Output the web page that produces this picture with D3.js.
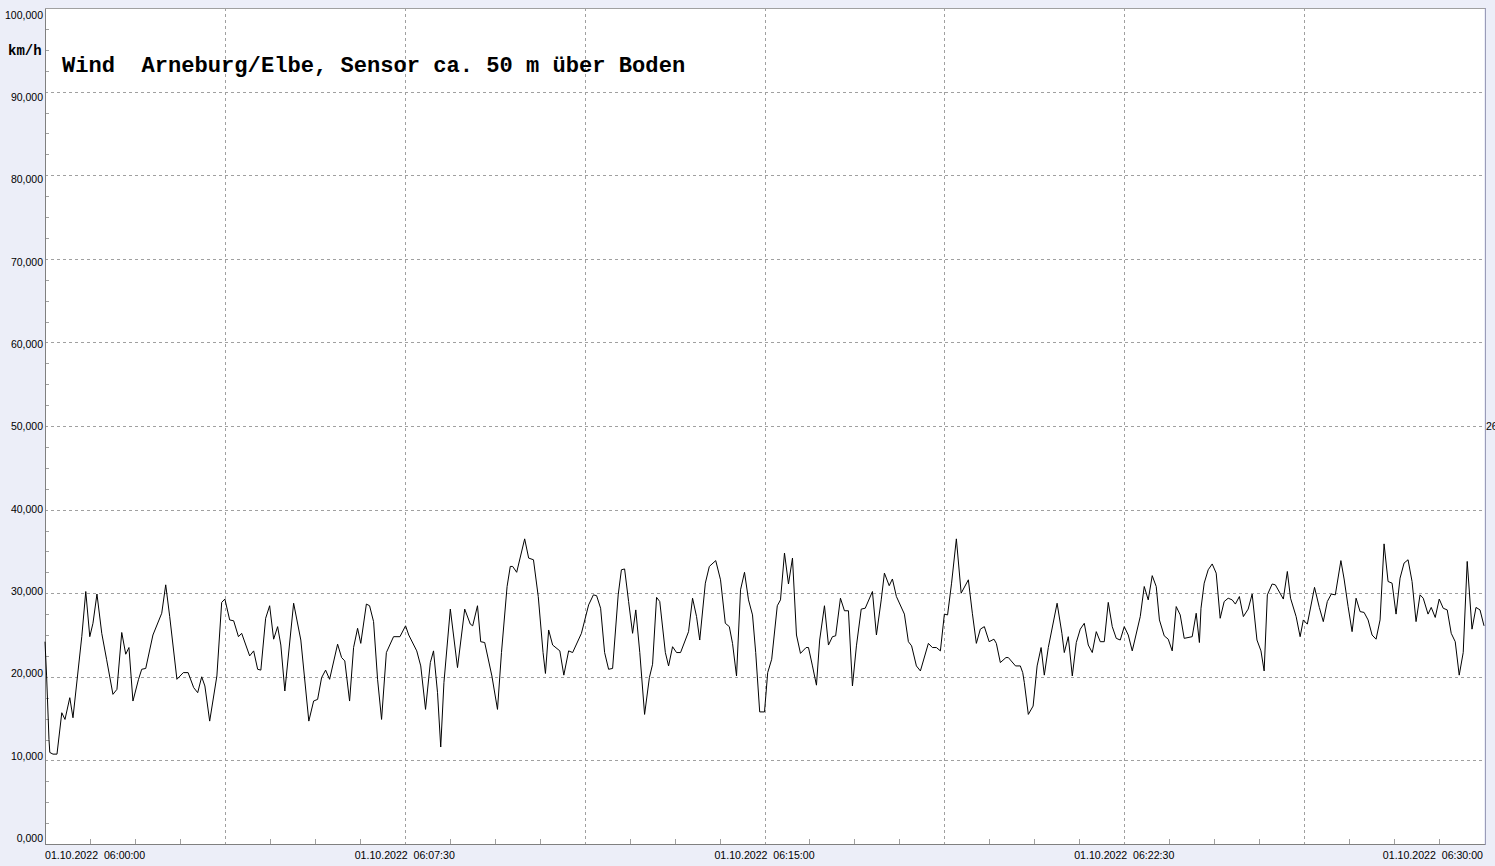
<!DOCTYPE html>
<html><head><meta charset="utf-8">
<script src="https://cdn.jsdelivr.net/npm/d3@7"></script>
<style>
html,body{margin:0;padding:0;background:#eceef8;}
svg{display:block;}
</style></head>
<body>
<svg id="chart" width="1495" height="866"></svg>
<script>
// seconds after 01.10.2022 06:00:00
const times = [0,2,5,6,10,15,21,25,31,35,46,51,56,60,65,71,77,85,90,96,101,105,110,117,121,126,135,146,151,156,165,173,179,186,191,196,200,206,215,221,225,231,236,242,246,256,261,266,270,276,281,286,291,295,300,
311,320,330,336,341,346,351,356,366,371,375,381,386,391,395,402,406,411,416,421,427,436,444,451,455,465,470,476,482,486,491,495,499,507,516,525,532,535,541,545,550,559,566,571,578,582,585,590,600,605,611,
617,623,626,630,635,644,649,655,660,671,680,686,690,695,700,705,710,717,721,725,730,735,739,744,750,756,760,765,769,776,780,785,790,795,805,810,815,819,826,831,839,845,851,856,860,865,870,875,880,885,889,894,900,904,909,
916,920,925,930,935,940,945,952,955,960,965,969,975,980,985,989,995,1000,1005,1010,1015,1021,1026,1035,1040,1046,1050,1056,1060,1065,1075,1080,1084,1090,1095,1105,1110,1115,1120,1125,1129,1134,1140,1146,1155,1160,1165,1170,1175,1181,1187,1190,1195,1202,1205,1214,1220,1223,
1225,1230,1236,1241,1246,1250,1255,1266,1272,1275,1280,1285,1290,1295,1300,1305,1310,1315,1320,1325,1330,1335,1340,1345,1350,1355,1360,1370,1375,1380,1385,1390,1394,1400,1405,1410,1415,1420,1425,1435,1440,1444,1446,1450,1455,1460,1465,1470,1475,1480,1485,1489,1494,1499,1505,1510,1516,1521,1525,
1529,1535,1539,1549,1554,1558,1565,1570,1574,1579,1588,1594,1599,1604,1609,1614,1621,1625,1630,1635,1640,1645,1650,1655,1660,1665,1670,1675,1680,1685,1690,1695,1700,1705,1710,1715,1720,1724,1730,1734,1739,1744,1749,1754,1759,1764,1769,1774,1779,1785,1790,1795,1800];
const windKmh = [24.2,20.1,12.5,10.95,10.75,10.75,15.7,14.9,17.5,15.1,24.8,30.2,24.8,26.4,29.9,25.2,22.1,17.9,18.5,25.3,22.7,23.5,17.1,19.7,20.9,21.0,25.0,27.6,31.0,27.2,19.7,20.5,20.5,18.7,18.1,20.0,18.9,14.7,20.1,28.9,29.3,26.8,26.7,24.8,25.2,22.5,23.1,20.9,20.8,27.0,28.5,24.5,26.0,23.8,18.3,
28.8,24.4,14.7,17.1,17.3,19.9,20.8,19.7,23.9,22.3,21.9,17.1,23.5,25.8,24.0,28.7,28.5,26.6,19.7,14.9,22.9,24.8,24.8,26.1,25.0,23.1,21.3,16.1,21.7,23.1,18.1,11.6,19.3,28.1,21.1,28.1,26.3,26.1,28.5,24.2,24.1,20.1,16.1,22.9,30.8,33.2,33.2,32.5,36.5,34.2,34.0,
29.6,22.9,20.4,25.6,23.8,23.1,20.2,23.1,22.9,25.2,28.6,29.8,29.7,28.2,22.9,20.9,21.0,29.8,32.8,32.9,29.0,25.2,28.0,22.9,15.5,19.9,21.5,29.5,29.0,22.9,21.3,23.6,22.9,22.9,25.4,29.4,27.2,24.4,31.2,33.2,33.9,31.6,26.4,26.0,24.0,20.1,30.4,32.5,29.2,27.4,22.9,15.8,15.8,20.5,22.1,
28.5,29.2,34.8,31.1,34.2,25.0,22.8,23.5,23.5,21.3,19.0,24.4,28.5,23.8,24.8,24.9,29.4,27.9,27.9,18.9,23.7,28.1,28.2,30.2,25.0,29.2,32.4,30.9,31.7,29.6,27.5,24.2,23.7,21.3,20.7,24.0,23.5,23.5,23.1,27.5,27.4,31.2,36.5,30.0,31.6,27.6,24.0,25.7,26.0,24.2,24.5,24.0,21.7,22.3,22.3,21.3,21.3,20.5,
19.3,15.5,16.5,21.3,23.5,20.2,23.5,28.8,25.2,22.9,24.8,20.1,24.1,25.7,26.4,23.8,22.9,25.4,24.2,24.2,28.9,26.0,24.6,24.4,26.0,25.0,23.1,27.2,30.8,29.2,32.1,30.8,26.8,24.9,24.5,23.1,28.4,27.4,24.6,24.8,27.6,24.1,28.2,31.2,32.8,33.5,32.4,27.0,29.0,29.4,29.2,28.7,29.6,27.2,28.1,29.9,24.4,23.1,20.7,
29.8,31.1,31.0,29.3,32.6,29.4,27.2,24.8,26.8,26.3,30.7,28.3,26.6,29.0,29.9,29.8,33.9,31.7,28.4,25.4,29.4,27.8,27.7,26.8,25.0,24.5,26.8,35.9,31.4,31.2,27.5,31.8,33.6,34.0,31.4,26.6,29.8,29.4,27.5,28.3,27.1,29.3,28.2,28.0,25.2,24.2,20.2,22.9,33.8,25.7,28.3,28.0,26.1];

const yTicks = [0,10,20,30,40,50,60,70,80,90,100];
const xTicks = [0,450,900,1350,1800];
const xTickLabels = ["01.10.2022  06:00:00","01.10.2022  06:07:30","01.10.2022  06:15:00","01.10.2022  06:22:30","01.10.2022  06:30:00"];
const titleText = "Wind  Arneburg/Elbe, Sensor ca. 50 m über Boden";
const unitText = "km/h";
const sideText = "26";

const L = 45, R = 1484, T = 8, B = 844;
const svg = d3.select("#chart");
const x = d3.scaleLinear().domain([0,1800]).range([L,R]);
const y = d3.scaleLinear().domain([0,100]).range([B,T]);
const yLab = d3.scaleLinear().domain([0,100]).range([838.5,15]);
const de = d3.formatLocale({decimal:",",thousands:".",grouping:[3],currency:["",""]});
const fmt = de.format(".3f");

svg.append("rect").attr("x",0).attr("y",0).attr("width",1495).attr("height",866).attr("fill","#eceef8");
svg.append("rect").attr("x",L).attr("y",T).attr("width",R-L).attr("height",B-T).attr("fill","#fff");

// horizontal grid
svg.append("g").selectAll("line").data(yTicks.filter(d=>d>0&&d<100)).join("line")
  .attr("x1",L).attr("x2",R).attr("y1",d=>Math.round(y(d))+0.5).attr("y2",d=>Math.round(y(d))+0.5)
  .attr("stroke","#a0a0a0").attr("stroke-width",1).attr("stroke-dasharray","3,3");
// vertical grid (every 225 s)
const vgrid = d3.range(225,1800,225);
svg.append("g").selectAll("line").data(vgrid).join("line")
  .attr("x1",d=>Math.round(x(d))+0.5).attr("x2",d=>Math.round(x(d))+0.5).attr("y1",T).attr("y2",B)
  .attr("stroke","#a0a0a0").attr("stroke-width",1).attr("stroke-dasharray","3,3");

// minor ticks on y axis (quarters)
const yMinor = d3.range(0,100,2.5).filter(d=>d%10!==0);
svg.append("g").selectAll("line").data(yMinor).join("line")
  .attr("x1",L).attr("x2",L+4).attr("y1",d=>Math.round(y(d))+0.5).attr("y2",d=>Math.round(y(d))+0.5)
  .attr("stroke","#a0a0a0");
// minor ticks on x axis
const xMinor = d3.range(0,1800,56.25).filter(d=>d%225!==0);
svg.append("g").selectAll("line").data(xMinor).join("line")
  .attr("x1",d=>Math.round(x(d))+0.5).attr("x2",d=>Math.round(x(d))+0.5).attr("y1",B).attr("y2",B-5)
  .attr("stroke","#a0a0a0");

// frame
svg.append("line").attr("x1",L+0.5).attr("x2",L+0.5).attr("y1",T).attr("y2",B+1).attr("stroke","#808080");
svg.append("line").attr("x1",L).attr("x2",R+1).attr("y1",B+0.5).attr("y2",B+0.5).attr("stroke","#808080");
svg.append("line").attr("x1",L).attr("x2",R+1).attr("y1",T+0.5).attr("y2",T+0.5).attr("stroke","#a0a0a0");
svg.append("line").attr("x1",R+1.5).attr("x2",R+1.5).attr("y1",T).attr("y2",B+1).attr("stroke","#9a9cb8");

// y labels
svg.append("g").selectAll("text").data(yTicks).join("text")
  .attr("x",43).attr("y",d=>yLab(d)).attr("dy","0.35em").attr("text-anchor","end")
  .attr("font-family","Liberation Sans, Arial, sans-serif").attr("font-size",10.5).attr("fill","#000")
  .text(d=>fmt(d));

// x labels
svg.append("g").selectAll("text").data(xTicks).join("text")
  .attr("x",(d,i)=> i===0 ? L : (i===xTicks.length-1 ? R-1 : x(d)))
  .attr("y",859)
  .attr("text-anchor",(d,i)=> i===0 ? "start" : (i===xTicks.length-1 ? "end" : "middle"))
  .attr("font-family","Liberation Sans, Arial, sans-serif").attr("font-size",10.6).attr("fill","#000")
  .style("white-space","pre")
  .text((d,i)=>xTickLabels[i]);

// unit + title
svg.append("text").attr("x",8).attr("y",55).attr("font-family","Liberation Mono, Courier New, monospace")
  .attr("font-weight","bold").attr("font-size",14).attr("fill","#000").text(unitText);
svg.append("text").attr("x",62).attr("y",72).attr("font-family","Liberation Mono, Courier New, monospace")
  .attr("font-weight","bold").attr("font-size",22.1).attr("fill","#000").style("white-space","pre").text(titleText);
svg.append("text").attr("x",1486).attr("y",y(50)).attr("dy","0.35em")
  .attr("font-family","Liberation Sans, Arial, sans-serif").attr("font-size",10.5).attr("fill","#000").text(sideText);

// line
const data = times.map((t,i)=>({t, v: windKmh[i]}));
svg.append("path").datum(data)
  .attr("d", d3.line().x(d=>x(d.t)).y(d=>y(d.v)))
  .attr("fill","none").attr("stroke","#000").attr("stroke-width",1);
</script>
</body></html>
